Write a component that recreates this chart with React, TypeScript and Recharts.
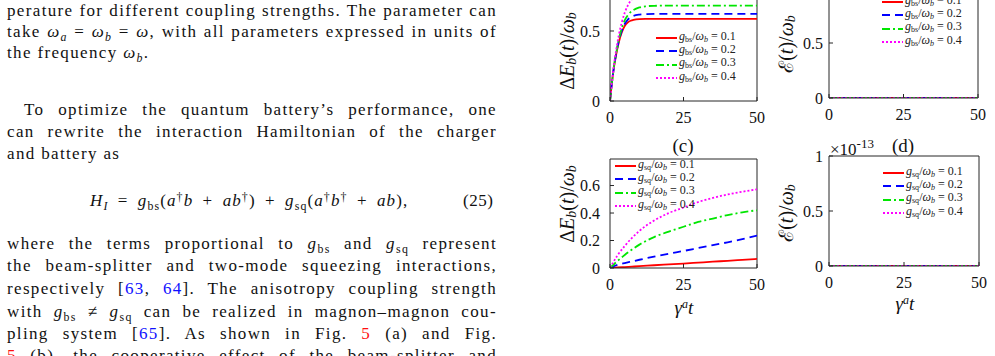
import React from 'react';
import { LineChart, Line, XAxis, YAxis, ReferenceLine, Legend } from 'recharts';

const SERIF = '"Liberation Serif", "Times New Roman", serif';

// ---------- data ----------
const couplings = [0.1, 0.2, 0.3, 0.4];
const xTicks = [0, 25, 50];

// panel (a): charging energy, beam-splitter coupling
const timeA = [0, 0.5, 1, 1.5, 2, 3, 4, 5, 6, 7, 8, 10, 12, 15, 20, 30, 40, 50];
const energyBs1 = [0, 0.1, 0.19, 0.26, 0.32, 0.42, 0.49, 0.535, 0.56, 0.573, 0.58, 0.585, 0.586, 0.586, 0.586, 0.586, 0.586, 0.586];
const energyBs2 = [0, 0.1, 0.19, 0.265, 0.325, 0.43, 0.5, 0.55, 0.58, 0.598, 0.608, 0.617, 0.62, 0.622, 0.622, 0.622, 0.622, 0.622];
const energyBs3 = [0, 0.1, 0.19, 0.27, 0.33, 0.44, 0.52, 0.575, 0.61, 0.635, 0.65, 0.668, 0.676, 0.68, 0.681, 0.681, 0.681, 0.681];
const energyBs4 = [0, 0.105, 0.2, 0.28, 0.35, 0.47, 0.56, 0.63, 0.68, 0.715, 0.74, 0.77, 0.785, 0.795, 0.8, 0.8, 0.8, 0.8];

// panel (b) and (d): ergotropy (order 1e-13, flat at zero)
const timeErg = [0, 10, 20, 30, 40, 50];
const ergBs1 = [0, 0, 0, 0, 0, 0];
const ergBs2 = [0, 0, 0, 0, 0, 0];
const ergBs3 = [0, 0, 0, 0, 0, 0];
const ergBs4 = [0, 0, 0, 0, 0, 0];
const ergSq1 = [0, 0, 0, 0, 0, 0];
const ergSq2 = [0, 0, 0, 0, 0, 0];
const ergSq3 = [0, 0, 0, 0, 0, 0];
const ergSq4 = [0, 0, 0, 0, 0, 0];

// panel (c): charging energy, squeezing coupling
const timeC = [0, 2.5, 5, 7.5, 10, 15, 20, 25, 30, 35, 40, 45, 50];
const energySq1 = [0, 0.004, 0.007, 0.01, 0.013, 0.02, 0.026, 0.032, 0.039, 0.046, 0.052, 0.059, 0.066];
const energySq2 = [0, 0.022, 0.036, 0.048, 0.06, 0.083, 0.104, 0.124, 0.145, 0.166, 0.187, 0.21, 0.236];
const energySq3 = [0, 0.05, 0.095, 0.135, 0.17, 0.225, 0.265, 0.3, 0.335, 0.36, 0.385, 0.405, 0.42];
const energySq4 = [0, 0.09, 0.16, 0.22, 0.27, 0.345, 0.4, 0.44, 0.48, 0.51, 0.535, 0.555, 0.572];

const yTicksA = [0, 0.5];
const yTicksB = [0, 0.5, 1];
const yTicksC = [0, 0.2, 0.4, 0.6];
const yTicksD = [0, 0.5, 1];

// ---------- styles ----------
const COLORS = ['#ff0000', '#0000ff', '#00e600', '#ff00ff'];
const DASHES = [undefined, '8 5', '8 3 2 3', '2 2'];
const AXIS = '#262626';
const KEYS = ['s1', 's2', 's3', 's4'];

function rows(t: number[], series: number[][]) {
  return t.map((v, i) => {
    const r: Record<string, number> = { t: v };
    series.forEach((s, k) => (r[KEYS[k]] = s[i]));
    return r;
  });
}

const dataA = rows(timeA, [energyBs1, energyBs2, energyBs3, energyBs4]);
const dataB = rows(timeErg, [ergBs1, ergBs2, ergBs3, ergBs4]);
const dataC = rows(timeC, [energySq1, energySq2, energySq3, energySq4]);
const dataD = rows(timeErg, [ergSq1, ergSq2, ergSq3, ergSq4]);

const PAD_L = 60, PAD_T = 30, PAD_R = 20, PAD_B = 50;

function LegendBox({ kind }: { kind: string }) {
  return (
    <div style={{ fontFamily: SERIF, fontSize: 12, color: '#222', lineHeight: '13.3px' }}>
      {couplings.map((c, i) => (
        <div key={i} style={{ display: 'flex', alignItems: 'center', height: 13.3, whiteSpace: 'nowrap' }}>
          <svg width={21} height={4} style={{ display: 'block' }}>
            <line x1={0} y1={2} x2={21} y2={2} stroke={COLORS[i]} strokeWidth={2} strokeDasharray={DASHES[i]} />
          </svg>
          <span style={{ marginLeft: 2 }}>
            <i>g</i>
            <span style={{ fontSize: 8, verticalAlign: -2 }}>{kind}</span>/<i>ω</i>
            <span style={{ fontSize: 8, verticalAlign: -2, fontStyle: 'italic' }}>b</span> = {c}
          </span>
        </div>
      ))}
    </div>
  );
}

type Box = { left: number; top: number; width: number; height: number };

function Panel(props: {
  box: Box;
  data: Record<string, number>[];
  yMax: number;
  yTicks: number[];
  yGap: number;
  kind: string;
  legendAt: { x: number; y: number };
  decor: (ox: number, oy: number) => React.ReactNode;
}) {
  const { box, data, yMax, yTicks, yGap, kind, legendAt, decor } = props;
  const W = box.width + PAD_L + PAD_R;
  const H = box.height + PAD_T + PAD_B;
  const ox = box.left - PAD_L;
  const oy = box.top - PAD_T;
  const tickStyle = { fontSize: 16, fontFamily: SERIF, fill: '#111' };
  return (
    <div style={{ position: 'absolute', left: ox, top: oy, width: W, height: H }}>
      <LineChart width={W} height={H} data={data} margin={{ top: PAD_T, right: PAD_R, bottom: 0, left: 0 }}>
        <XAxis
          dataKey="t"
          type="number"
          domain={[0, 50]}
          ticks={xTicks}
          height={PAD_B}
          allowDataOverflow
          tickSize={-4}
          tickMargin={15}
          stroke={AXIS}
          tick={tickStyle}
          axisLine={{ stroke: AXIS, strokeWidth: 1 }}
        />
        <YAxis
          type="number"
          domain={[0, yMax]}
          ticks={yTicks}
          width={PAD_L}
          allowDataOverflow
          tickSize={-4}
          tickMargin={4 + yGap}
          stroke={AXIS}
          tick={tickStyle}
          axisLine={{ stroke: AXIS, strokeWidth: 1 }}
        />
        <ReferenceLine y={yMax} stroke={AXIS} strokeWidth={1} />
        <ReferenceLine x={50} stroke={AXIS} strokeWidth={1} />
        {KEYS.map((k, i) => (
          <Line
            key={k}
            dataKey={k}
            type="monotone"
            stroke={COLORS[i]}
            strokeWidth={1.8}
            strokeDasharray={DASHES[i]}
            dot={false}
            isAnimationActive={false}
          />
        ))}
        <Legend
          layout="vertical"
          align="center"
          verticalAlign="middle"
          wrapperStyle={{ left: legendAt.x - ox, top: legendAt.y - 6.65 - oy, width: 'auto' }}
          content={() => <LegendBox kind={kind} />}
        />
        {decor(ox, oy)}
      </LineChart>
    </div>
  );
}

function EnergyLabel({ cx, cy }: { cx: number; cy: number }) {
  return (
    <text
      x={cx}
      y={cy}
      transform={`rotate(-90 ${cx} ${cy})`}
      textAnchor="middle"
      dominantBaseline="central"
      fontFamily={SERIF}
      fontSize={20}
      fill="#111"
    >
      Δ<tspan fontStyle="italic">E</tspan>
      <tspan fontStyle="italic" fontSize={14} dy={4}>b</tspan>
      <tspan dy={-4}>(</tspan>
      <tspan fontStyle="italic">t</tspan>)/<tspan fontStyle="italic">ω</tspan>
      <tspan fontStyle="italic" fontSize={14} dy={4}>b</tspan>
    </text>
  );
}

function ErgLabel({ cx, cy }: { cx: number; cy: number }) {
  return (
    <text
      x={cx}
      y={cy}
      transform={`rotate(-90 ${cx} ${cy})`}
      textAnchor="middle"
      dominantBaseline="central"
      fontFamily={SERIF}
      fontSize={20}
      fill="#111"
    >
      ℰ(<tspan fontStyle="italic">t</tspan>)/<tspan fontStyle="italic">ω</tspan>
      <tspan fontStyle="italic" fontSize={14} dy={4}>b</tspan>
    </text>
  );
}

function TimeLabel({ cx, cy }: { cx: number; cy: number }) {
  return (
    <text x={cx} y={cy} textAnchor="middle" fontFamily={SERIF} fontSize={19} fill="#111">
      <tspan fontStyle="italic">γ</tspan>
      <tspan fontStyle="italic" fontSize={12} dy={-6}>a</tspan>
      <tspan fontStyle="italic" dy={6}>t</tspan>
    </text>
  );
}

// ---------- text column ----------
const Sub = ({ children }: { children: React.ReactNode }) => (
  <span style={{ fontSize: '0.7em', verticalAlign: '-0.3em', lineHeight: 0 }}>{children}</span>
);
const Sup = ({ children }: { children: React.ReactNode }) => (
  <span style={{ fontSize: '0.7em', verticalAlign: '0.45em', lineHeight: 0 }}>{children}</span>
);
const Blue = ({ children }: { children: React.ReactNode }) => <span style={{ color: '#1010ff' }}>{children}</span>;
const Red = ({ children }: { children: React.ReactNode }) => <span style={{ color: '#ff1010' }}>{children}</span>;

function TL({ top, left = 7, width = 490, justify = true, spacing = 1.35, wordSpacing = 0, children }: any) {
  return (
    <div
      style={{
        position: 'absolute',
        top,
        left,
        width,
        fontFamily: SERIF,
        fontSize: 17,
        lineHeight: '21px',
        letterSpacing: spacing,
        wordSpacing,
        color: '#111',
        whiteSpace: 'nowrap',
        textAlign: justify ? 'justify' : 'left',
        textAlignLast: justify ? 'justify' : 'left',
      }}
    >
      {children}
    </div>
  );
}

export default function App() {
  return (
    <div style={{ position: 'absolute', left: 0, top: 0, width: 995, height: 356, overflow: 'hidden', background: '#fff' }}>
      <TL top={-21}>
        charging energy Δ<i>E</i><Sub><i>b</i></Sub>(<i>t</i>) and ergotropy ℰ(<i>t</i>) versus tem-
      </TL>
      <TL top={0}>perature for different coupling strengths. The parameter can</TL>
      <TL top={21}>
        take <i>ω</i><Sub><i>a</i></Sub> = <i>ω</i><Sub><i>b</i></Sub> = <i>ω</i>, with all parameters expressed in units of
      </TL>
      <TL top={42} justify={false}>
        the frequency <i>ω</i><Sub><i>b</i></Sub>.
      </TL>
      <TL top={99} left={24} width={473}>To optimize the quantum battery’s performance, one</TL>
      <TL top={121}>can rewrite the interaction Hamiltonian of the charger</TL>
      <TL top={143} justify={false}>and battery as</TL>
      <TL top={190} left={90} width={330} justify={false} spacing={1.1} wordSpacing={4}>
        <i>H</i><Sub><i>I</i></Sub> = <i>g</i><Sub>bs</Sub>(<i>a</i><Sup>†</Sup><i>b</i> + <i>ab</i><Sup>†</Sup>) + <i>g</i><Sub>sq</Sub>(<i>a</i><Sup>†</Sup><i>b</i><Sup>†</Sup> + <i>ab</i>),
      </TL>
      <TL top={190} left={463} width={34} justify={false} spacing={0.5}>(25)</TL>
      <TL top={233}>
        where the terms proportional to <i>g</i><Sub>bs</Sub> and <i>g</i><Sub>sq</Sub> represent
      </TL>
      <TL top={255}>the beam-splitter and two-mode squeezing interactions,</TL>
      <TL top={278}>
        respectively [<Blue>63</Blue>, <Blue>64</Blue>]. The anisotropy coupling strength
      </TL>
      <TL top={301}>
        with <i>g</i><Sub>bs</Sub> ≠ <i>g</i><Sub>sq</Sub> can be realized in magnon–magnon cou-
      </TL>
      <TL top={323}>
        pling system [<Blue>65</Blue>]. As shown in Fig. <Red>5</Red> (a) and Fig.
      </TL>
      <TL top={345}>
        <Red>5</Red> (b), the cooperative effect of the beam-splitter and
      </TL>

      <Panel
        box={{ left: 610, top: -12, width: 147, height: 113 }}
        data={dataA}
        yMax={0.807}
        yTicks={yTicksA}
        yGap={10}
        kind="bs"
        legendAt={{ x: 656, y: 38 }}
        decor={(ox, oy) => <EnergyLabel cx={567 - ox} cy={51 - oy} />}
      />
      <Panel
        box={{ left: 829, top: -12, width: 149, height: 110 }}
        data={dataB}
        yMax={1}
        yTicks={yTicksB}
        yGap={6}
        kind="bs"
        legendAt={{ x: 882, y: 2 }}
        decor={(ox, oy) => <ErgLabel cx={786 - ox} cy={44 - oy} />}
      />
      <Panel
        box={{ left: 610, top: 159, width: 147, height: 109 }}
        data={dataC}
        yMax={0.793}
        yTicks={yTicksC}
        yGap={10}
        kind="sq"
        legendAt={{ x: 615, y: 166 }}
        decor={(ox, oy) => (
          <g>
            <EnergyLabel cx={567 - ox} cy={204 - oy} />
            <TimeLabel cx={684 - ox} cy={314 - oy} />
            <text x={683 - ox} y={145 - oy} textAnchor="middle" dominantBaseline="central" fontFamily={SERIF} fontSize={19} fill="#111">
              (c)
            </text>
          </g>
        )}
      />
      <Panel
        box={{ left: 829, top: 156, width: 150, height: 110 }}
        data={dataD}
        yMax={1}
        yTicks={yTicksD}
        yGap={6}
        kind="sq"
        legendAt={{ x: 883, y: 173 }}
        decor={(ox, oy) => (
          <g>
            <ErgLabel cx={786 - ox} cy={213 - oy} />
            <TimeLabel cx={905 - ox} cy={310 - oy} />
            <text x={903 - ox} y={145 - oy} textAnchor="middle" dominantBaseline="central" fontFamily={SERIF} fontSize={19} fill="#111">
              (d)
            </text>
            <text x={830 - ox} y={149 - oy} dominantBaseline="central" fontFamily={SERIF} fontSize={17} fill="#111">
              ×10<tspan fontSize={13} dy={-6}>-13</tspan>
            </text>
          </g>
        )}
      />
    </div>
  );
}
